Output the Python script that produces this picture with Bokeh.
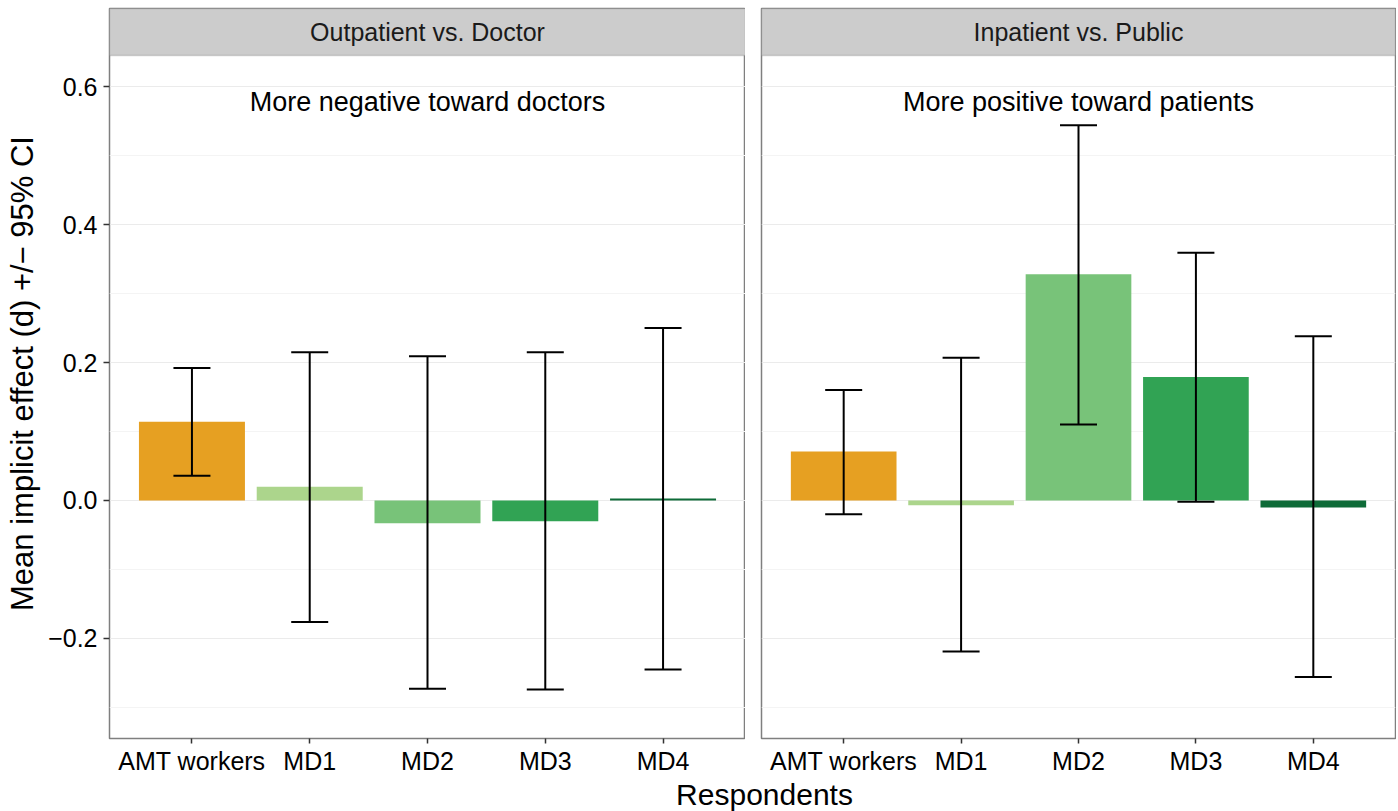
from bokeh.plotting import figure
from bokeh.layouts import row, column
from bokeh.models import (FactorRange, Range1d, FixedTicker, Whisker, TeeHead,
                          ColumnDataSource, BoxAnnotation, Label)
from bokeh.core.properties import value
from bokeh.embed import file_html
from bokeh.resources import INLINE

# ---------------- data ----------------
categories = ["AMT workers", "MD1", "MD2", "MD3", "MD4"]
bar_colors = ["#E6A022", "#ACD58C", "#78C379", "#31A354", "#0E6B38"]

panel_titles = ["Outpatient vs. Doctor", "Inpatient vs. Public"]
panel_notes = ["More negative toward doctors", "More positive toward patients"]

out_doc_mean = [0.114, 0.020, -0.033, -0.030, 0.003]
out_doc_lo = [0.036, -0.176, -0.273, -0.274, -0.245]
out_doc_hi = [0.192, 0.215, 0.209, 0.215, 0.250]

in_pub_mean = [0.071, -0.007, 0.328, 0.179, -0.010]
in_pub_lo = [-0.020, -0.219, 0.110, -0.002, -0.256]
in_pub_hi = [0.160, 0.207, 0.544, 0.359, 0.238]

y_ticks = [-0.2, 0.0, 0.2, 0.4, 0.6]
y_tick_labels = ["\u22120.2", "0.0", "0.2", "0.4", "0.6"]
y_minor = [-0.3, -0.1, 0.1, 0.3, 0.5]

x_title = "Respondents"
y_title = "Mean implicit effect (d) +/\u2212 95% CI"

# ---------------- layout constants ----------------
FONT = "Liberation Sans"
y_low, y_high = -0.345, 0.645
frame_ws = [636, 634]
frame_h = 730
strip_px = 47
panel_px = frame_h - strip_px
px_per_unit = panel_px / (y_high - y_low)
strip_top = y_high + strip_px / px_per_unit
strip_mid = (y_high + strip_top) / 2
note_y = 0.577


def make_panel(idx, mean, lo, hi, left):
    p = figure(
        x_range=FactorRange(factors=categories, range_padding=0.2,
                            range_padding_units="absolute"),
        y_range=Range1d(y_low, strip_top),
        frame_width=frame_ws[idx], frame_height=frame_h,
        min_border_left=109 if left else 16,
        min_border_right=0 if left else 1,
        min_border_top=8, min_border_bottom=0,
        toolbar_location=None, output_backend="svg",
        background_fill_color="white", border_fill_color="white",
    )
    ticker = FixedTicker(ticks=y_ticks, minor_ticks=y_minor)
    p.xgrid.visible = False
    p.ygrid.ticker = ticker
    p.ygrid.grid_line_color = "#EBEBEB"
    p.ygrid.grid_line_width = 1.2
    p.ygrid.minor_grid_line_color = "#F4F4F4"
    p.ygrid.minor_grid_line_width = 1.0

    p.outline_line_color = "#7F7F7F"
    p.outline_line_width = 1.5

    src = ColumnDataSource(dict(x=categories, top=mean, lo=lo, hi=hi,
                                color=bar_colors))
    p.vbar(x="x", top="top", bottom=0, width=0.9, fill_color="color",
           line_color=None, source=src)

    w = Whisker(source=src, base="x", lower="lo", upper="hi",
                line_color="black", line_width=2, level="overlay",
                upper_head=TeeHead(size=37, line_color="black", line_width=2),
                lower_head=TeeHead(size=37, line_color="black", line_width=2))
    p.add_layout(w)

    p.text(x=[categories[len(categories) // 2]], y=[note_y],
           text=[panel_notes[idx]], text_align="center",
           text_baseline="middle", text_font=value(FONT),
           text_font_size=value("27px"), text_color="black")

    strip = BoxAnnotation(bottom=y_high, fill_color="#CCCCCC", fill_alpha=1.0,
                          line_color="#7F7F7F", line_width=1.5)
    p.add_layout(strip)
    p.add_layout(Label(x=len(categories) / 2, y=strip_mid,
                       text=panel_titles[idx], text_align="center",
                       text_baseline="middle", text_font=FONT,
                       text_font_size="25px", text_color="#1A1A1A"))

    ax = p.xaxis[0]
    ax.axis_line_color = None
    ax.major_tick_out = 5
    ax.major_tick_in = 0
    ax.major_tick_line_color = "#333333"
    ax.major_tick_line_width = 1.5
    ax.minor_tick_line_color = None
    ax.major_label_standoff = 3
    ax.major_label_text_font = FONT
    ax.major_label_text_font_size = "25px"
    ax.major_label_text_color = "black"

    ay = p.yaxis[0]
    if left:
        ay.ticker = ticker
        ay.major_label_overrides = {t: l for t, l in zip(y_ticks, y_tick_labels)}
        ay.axis_line_color = None
        ay.major_tick_out = 6
        ay.major_tick_in = 0
        ay.major_tick_line_color = "#333333"
        ay.major_tick_line_width = 1.5
        ay.minor_tick_line_color = None
        ay.major_label_standoff = 6
        ay.major_label_text_font = FONT
        ay.major_label_text_font_size = "25px"
        ay.major_label_text_color = "black"
        ay.axis_label = y_title
        ay.axis_label_text_font = FONT
        ay.axis_label_text_font_size = "31px"
        ay.axis_label_text_font_style = "normal"
        ay.axis_label_text_color = "black"
        ay.axis_label_standoff = 5
    else:
        ay.visible = False
    return p


p1 = make_panel(0, out_doc_mean, out_doc_lo, out_doc_hi, True)
p2 = make_panel(1, in_pub_mean, in_pub_lo, in_pub_hi, False)

total_w = 1396
title_h = 34
pt = figure(frame_width=total_w, frame_height=title_h,
            x_range=Range1d(0, total_w), y_range=Range1d(0, title_h),
            min_border=0, toolbar_location=None, output_backend="svg")
pt.axis.visible = False
pt.grid.visible = False
pt.outline_line_color = None
pt.text(x=[764], y=[17], text=[x_title], text_align="center",
        text_baseline="middle", text_font=value(FONT),
        text_font_size=value("30px"), text_color="black")

layout = column(row(p1, p2), pt)
open("out.html", "w").write(file_html(layout, INLINE))
